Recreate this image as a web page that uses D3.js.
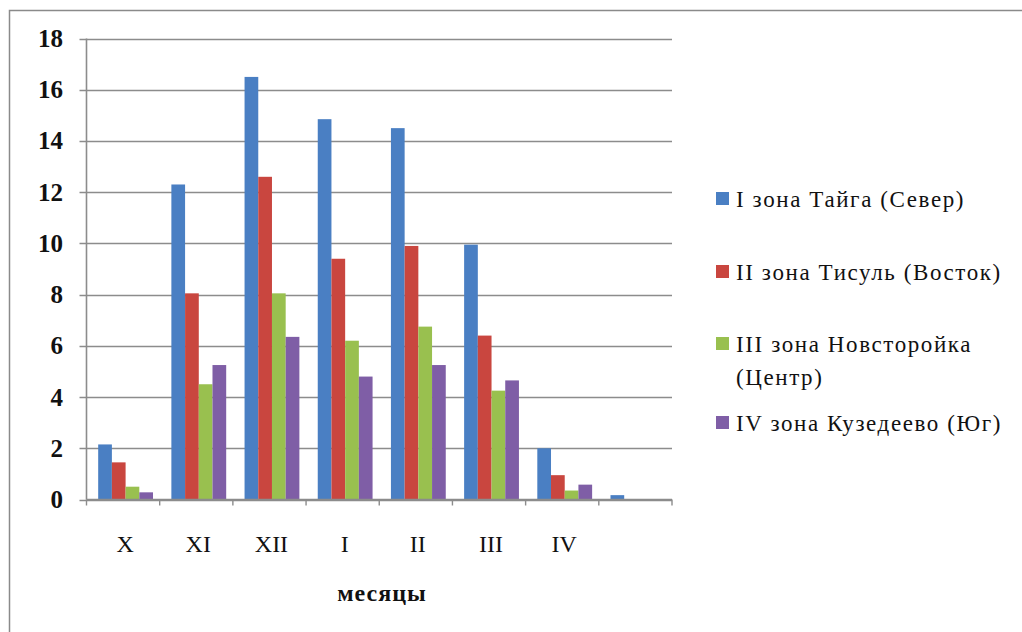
<!DOCTYPE html>
<html><head><meta charset="utf-8">
<script src="https://cdn.jsdelivr.net/npm/d3@7"></script>
<style>body{margin:0;background:#fff}svg{display:block}</style>
</head><body>
<svg id="c" width="1022" height="632"></svg>
<script>
const categories = ["X","XI","XII","I","II","III","IV",""];
const seriesNames = ["I зона Тайга (Север)","II зона Тисуль (Восток)","III зона Новсторойка (Центр)","IV зона Кузедеево (Юг)"];
const taiga     = [2.15, 12.3, 16.5, 14.85, 14.5, 9.95, 2.0, 0.17];
const tisul     = [1.45, 8.05, 12.6, 9.4, 9.9, 6.4, 0.95, 0];
const novostroi = [0.5, 4.5, 8.05, 6.2, 6.75, 4.25, 0.35, 0];
const kuzedeevo = [0.28, 5.25, 6.35, 4.8, 5.25, 4.65, 0.58, 0];
const yTicks = [0,2,4,6,8,10,12,14,16,18];
const colors = ["#4a7fc3","#c9463f","#99c04f","#7f5ea6"];
const series = [taiga, tisul, novostroi, kuzedeevo];

(function(){
const svg = d3.select("#c");
const FF = '"Liberation Serif"';

// outer frame
svg.append("rect").attr("x",9.5).attr("y",10.5).attr("width",1030).attr("height",640)
  .attr("fill","none").attr("stroke","#8a8a8a").attr("stroke-width",1.5);

const pLeft=86.5, pRight=672, pTop=38.5, pBottom=499.5;
const x = d3.scaleBand().domain(categories.map((c,i)=>i)).range([pLeft,pRight]).paddingInner(0).paddingOuter(0);
const xs = d3.scaleBand().domain(d3.range(4)).range([0,x.bandwidth()]).paddingInner(0).paddingOuter(0.67);
const y = d3.scaleLinear().domain([0,18]).range([pBottom,pTop]);

// gridlines
svg.append("g").selectAll("line").data(yTicks).join("line")
  .attr("x1",pLeft-7).attr("x2",pRight).attr("y1",d=>Math.round(y(d))+0.5).attr("y2",d=>Math.round(y(d))+0.5)
  .attr("stroke","#8c8c8c").attr("stroke-width",1.6);

// y axis labels
svg.append("g").selectAll("text").data(yTicks).join("text")
  .attr("x",63).attr("y",d=>y(d)+8.5).attr("text-anchor","end")
  .style("font-family",FF).style("font-weight","bold").style("font-size","25px").attr("fill","#111")
  .text(d=>d);

// y axis line
svg.append("line").attr("x1",pLeft).attr("x2",pLeft).attr("y1",pTop).attr("y2",pBottom)
  .attr("stroke","#8c8c8c").attr("stroke-width",1.6);

// bars
series.forEach((s,si)=>{
  svg.append("g").selectAll("rect").data(s).join("rect")
    .attr("x",(d,i)=>x(i)+xs(si)+2.5)
    .attr("width",xs.bandwidth())
    .attr("y",d=>y(d))
    .attr("height",d=>pBottom-y(d))
    .attr("fill",colors[si]);
});

// x axis line & ticks
svg.append("line").attr("x1",pLeft).attr("x2",pRight).attr("y1",pBottom).attr("y2",pBottom)
  .attr("stroke","#8c8c8c").attr("stroke-width",1.6);
const bounds = d3.range(categories.length+1).map(i=> i<categories.length ? x(i) : pRight);
svg.append("g").selectAll("line").data(bounds).join("line")
  .attr("x1",d=>d).attr("x2",d=>d).attr("y1",pBottom).attr("y2",pBottom+6)
  .attr("stroke","#8c8c8c").attr("stroke-width",1.4);

// x labels
svg.append("g").selectAll("text").data(categories).join("text")
  .attr("x",(d,i)=>x(i)+x.bandwidth()/2+2).attr("y",552).attr("text-anchor","middle")
  .style("font-family",FF).style("font-size","24px").attr("fill","#111").text(d=>d);

svg.append("text").attr("x",382).attr("y",601).attr("text-anchor","middle")
  .style("font-family",FF).style("font-weight","bold").style("font-size","24px").style("letter-spacing","1px")
  .attr("fill","#111").text("месяцы");

// legend
const legendRows = [
  {lines:["I зона Тайга (Север)"], y:207},
  {lines:["II зона Тисуль (Восток)"], y:280},
  {lines:["III зона Новсторойка","(Центр)"], y:352},
  {lines:["IV зона Кузедеево (Юг)"], y:431}
];
const lg = svg.append("g");
legendRows.forEach((r,i)=>{
  lg.append("rect").attr("x",716).attr("y",r.y-15).attr("width",13).attr("height",13).attr("fill",colors[i]);
  r.lines.forEach((t,j)=>{
    lg.append("text").attr("x",736).attr("y",r.y+j*33)
      .style("font-family",FF).style("font-size","23px").style("letter-spacing","1.6px")
      .attr("fill","#111").text(t);
  });
});
})();
</script>
</body></html>
